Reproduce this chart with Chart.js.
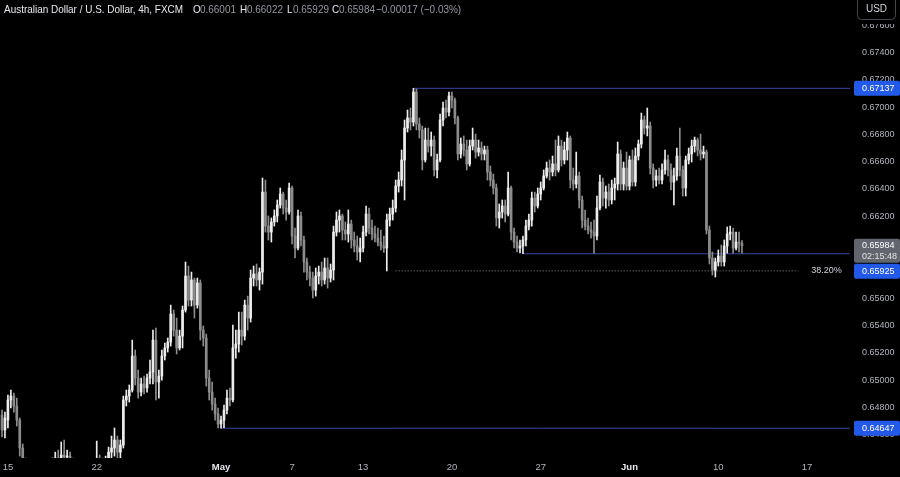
<!DOCTYPE html>
<html><head><meta charset="utf-8">
<script src="https://cdn.jsdelivr.net/npm/chart.js@4.4.1/dist/chart.umd.min.js"></script>
<style>html,body{margin:0;padding:0;background:#000;overflow:hidden}#wrap{width:900px;height:477px}</style>
</head><body><div id="wrap"><canvas id="c" width="900" height="477"></canvas></div>
<script>
// ---- data (AUD/USD 4h, FXCM) ----
const OPEN = [
0.64743,0.64634,0.64707,0.64854,0.64883,0.64810,0.64707,0.64502,0.64399,0.64326,
0.64282,0.64238,0.64267,0.64297,0.64326,0.64341,0.64355,0.64370,0.64399,0.64429,
0.64399,0.64451,0.64436,0.64443,0.64399,0.64370,0.64341,0.64311,0.64341,0.64355,
0.64341,0.64370,0.64399,0.64414,0.64385,0.64370,0.64399,0.64472,0.64502,0.64561,
0.64472,0.64524,0.64854,0.64883,0.64927,0.65176,0.65015,0.64912,0.64971,0.64942,
0.65015,0.65059,0.65293,0.64986,0.65029,0.65176,0.65235,0.65278,0.65484,0.65366,
0.65235,0.65322,0.65513,0.65762,0.65586,0.65733,0.65549,0.65711,0.65366,0.65308,
0.65015,0.64912,0.64824,0.64751,0.64678,0.64707,0.64780,0.64868,0.64854,0.65235,
0.65264,0.65366,0.65322,0.65549,0.65454,0.65747,0.65777,0.65733,0.65791,0.66377,
0.66128,0.66084,0.66158,0.66202,0.66282,0.66363,0.66260,0.66231,0.66407,0.66055,
0.65967,0.66202,0.66026,0.65865,0.65791,0.65747,0.65659,0.65762,0.65791,0.65733,
0.65821,0.65747,0.65806,0.66084,0.66172,0.66202,0.66099,0.66070,0.66143,0.66026,
0.65982,0.65938,0.65967,0.66084,0.66216,0.66114,0.66070,0.66040,0.66011,0.65982,
0.65967,0.66172,0.66216,0.66260,0.66421,0.66465,0.66612,0.66846,0.66920,0.66890,
0.67110,0.66876,0.66832,0.66612,0.66758,0.66714,0.66758,0.66539,0.66612,0.66905,
0.66993,0.66963,0.67081,0.67051,0.66920,0.66656,0.66729,0.66685,0.66583,0.66714,
0.66758,0.66670,0.66700,0.66656,0.66685,0.66524,0.66465,0.66407,0.66187,0.66231,
0.66275,0.66216,0.66407,0.66084,0.66011,0.65967,0.65982,0.66026,0.66128,0.66172,
0.66333,0.66275,0.66363,0.66407,0.66495,0.66553,0.66524,0.66583,0.66539,0.66714,
0.66612,0.66685,0.66773,0.66465,0.66436,0.66495,0.66319,0.66172,0.66128,0.66099,
0.66084,0.66055,0.66260,0.66451,0.66333,0.66377,0.66319,0.66407,0.66436,0.66656,
0.66436,0.66553,0.66421,0.66612,0.66451,0.66641,0.66729,0.66905,0.66846,0.66861,
0.66553,0.66465,0.66495,0.66465,0.66539,0.66612,0.66539,0.66451,0.66495,0.66641,
0.66539,0.66407,0.66612,0.66656,0.66714,0.66758,0.66685,0.66656,0.66670,0.66099,
0.65894,0.65806,0.65865,0.65909,0.65865,0.65982,0.66070,0.66084,0.65967,0.66011,
0.66001];
const HIGH = [
0.64780,0.64765,0.64890,0.64927,0.64905,0.64868,0.64722,0.64532,0.64429,0.64377,
0.64341,0.64304,0.64341,0.64355,0.64370,0.64392,0.64414,0.64429,0.64472,0.64487,
0.64546,0.64561,0.64487,0.64472,0.64429,0.64414,0.64399,0.64370,0.64399,0.64407,
0.64399,0.64414,0.64553,0.64451,0.64429,0.64443,0.64509,0.64590,0.64649,0.64590,
0.64561,0.64883,0.64927,0.64964,0.65293,0.65220,0.65073,0.65015,0.65029,0.65044,
0.65147,0.65366,0.65381,0.65073,0.65220,0.65271,0.65308,0.65549,0.65513,0.65454,
0.65366,0.65542,0.65865,0.65835,0.65791,0.65747,0.65747,0.65733,0.65396,0.65337,
0.65073,0.64986,0.64868,0.64795,0.64736,0.64817,0.64927,0.64942,0.65403,0.65366,
0.65498,0.65498,0.65586,0.65615,0.65806,0.65835,0.65850,0.65821,0.66480,0.66465,
0.66202,0.66187,0.66246,0.66319,0.66407,0.66377,0.66319,0.66443,0.66421,0.66114,
0.66246,0.66231,0.66055,0.65894,0.65835,0.65791,0.65821,0.65835,0.65865,0.65894,
0.65894,0.65850,0.66128,0.66231,0.66246,0.66216,0.66158,0.66246,0.66172,0.66084,
0.66055,0.66040,0.66128,0.66275,0.66260,0.66172,0.66128,0.66114,0.66099,0.66055,
0.66216,0.66260,0.66319,0.66465,0.66524,0.66685,0.66905,0.66978,0.66993,0.67137,
0.67132,0.66920,0.66861,0.66846,0.66846,0.66817,0.66788,0.66656,0.66949,0.67037,
0.67051,0.67110,0.67110,0.67066,0.66934,0.66773,0.66788,0.66758,0.66758,0.66846,
0.66802,0.66758,0.66744,0.66714,0.66714,0.66568,0.66509,0.66436,0.66290,0.66319,
0.66319,0.66524,0.66421,0.66114,0.66055,0.66026,0.66055,0.66172,0.66216,0.66377,
0.66377,0.66407,0.66451,0.66539,0.66597,0.66612,0.66641,0.66758,0.66788,0.66758,
0.66744,0.66817,0.66788,0.66553,0.66670,0.66524,0.66348,0.66246,0.66187,0.66158,
0.66172,0.66348,0.66502,0.66480,0.66421,0.66436,0.66465,0.66480,0.66744,0.66685,
0.66597,0.66670,0.66641,0.66685,0.66700,0.66758,0.66956,0.66934,0.66993,0.66890,
0.66583,0.66539,0.66553,0.66583,0.66685,0.66648,0.66583,0.66553,0.66700,0.66846,
0.66568,0.66641,0.66700,0.66758,0.66780,0.66773,0.66802,0.66714,0.66685,0.66128,
0.65938,0.65894,0.65953,0.65989,0.66026,0.66121,0.66128,0.66114,0.66084,0.66084,
0.66022];
const LOW = [
0.64583,0.64576,0.64649,0.64795,0.64765,0.64663,0.64443,0.64341,0.64282,0.64231,
0.64194,0.64179,0.64209,0.64238,0.64267,0.64282,0.64297,0.64311,0.64355,0.64370,
0.64377,0.64414,0.64385,0.64370,0.64326,0.64297,0.64267,0.64253,0.64282,0.64297,
0.64282,0.64311,0.64355,0.64341,0.64326,0.64341,0.64370,0.64414,0.64443,0.64429,
0.64399,0.64502,0.64810,0.64839,0.64912,0.64964,0.64868,0.64883,0.64898,0.64912,
0.64971,0.64971,0.64854,0.64868,0.65000,0.65147,0.65205,0.65249,0.65322,0.65191,
0.65220,0.65235,0.65498,0.65542,0.65542,0.65454,0.65527,0.65293,0.65249,0.64956,
0.64854,0.64780,0.64707,0.64649,0.64647,0.64652,0.64751,0.64810,0.64839,0.65161,
0.65205,0.65256,0.65293,0.65366,0.65425,0.65689,0.65689,0.65659,0.65703,0.66084,
0.66026,0.66011,0.66128,0.66158,0.66260,0.66216,0.66172,0.66216,0.65997,0.65894,
0.65953,0.65982,0.65791,0.65733,0.65689,0.65601,0.65615,0.65703,0.65689,0.65703,
0.65674,0.65718,0.65733,0.66055,0.66084,0.66026,0.66026,0.66011,0.65967,0.65938,
0.65879,0.65865,0.65938,0.66055,0.66070,0.66026,0.66011,0.65982,0.65953,0.65935,
0.65799,0.66128,0.66172,0.66231,0.66377,0.66421,0.66319,0.66817,0.66832,0.66861,
0.66832,0.66773,0.66539,0.66597,0.66670,0.66641,0.66495,0.66480,0.66597,0.66861,
0.66920,0.66934,0.66993,0.66876,0.66612,0.66626,0.66641,0.66539,0.66568,0.66685,
0.66626,0.66641,0.66612,0.66612,0.66465,0.66421,0.66363,0.66128,0.66114,0.66187,
0.66158,0.66202,0.66026,0.65967,0.65938,0.65931,0.65925,0.65982,0.66099,0.66128,
0.66231,0.66260,0.66319,0.66392,0.66480,0.66465,0.66495,0.66495,0.66524,0.66568,
0.66583,0.66612,0.66407,0.66392,0.66407,0.66260,0.66114,0.66099,0.66070,0.66040,
0.65927,0.66026,0.66246,0.66275,0.66260,0.66275,0.66290,0.66319,0.66392,0.66392,
0.66392,0.66392,0.66392,0.66421,0.66421,0.66612,0.66700,0.66802,0.66788,0.66509,
0.66407,0.66421,0.66436,0.66436,0.66509,0.66495,0.66392,0.66282,0.66465,0.66495,
0.66348,0.66348,0.66583,0.66597,0.66670,0.66641,0.66612,0.66626,0.66070,0.65850,
0.65769,0.65755,0.65835,0.65835,0.65835,0.65930,0.66026,0.65930,0.65953,0.65938,
0.65929];
const CLOSE = [
0.64634,0.64722,0.64854,0.64883,0.64810,0.64707,0.64502,0.64399,0.64326,0.64282,
0.64238,0.64267,0.64297,0.64326,0.64341,0.64355,0.64370,0.64399,0.64429,0.64399,
0.64451,0.64436,0.64443,0.64399,0.64370,0.64341,0.64311,0.64341,0.64355,0.64341,
0.64370,0.64399,0.64414,0.64385,0.64370,0.64399,0.64472,0.64502,0.64561,0.64472,
0.64524,0.64854,0.64883,0.64927,0.65176,0.65015,0.64912,0.64971,0.64942,0.65015,
0.65059,0.65293,0.64986,0.65029,0.65176,0.65235,0.65278,0.65484,0.65366,0.65235,
0.65322,0.65513,0.65762,0.65586,0.65733,0.65549,0.65711,0.65366,0.65308,0.65015,
0.64912,0.64824,0.64751,0.64678,0.64707,0.64780,0.64868,0.64854,0.65235,0.65264,
0.65366,0.65322,0.65549,0.65454,0.65747,0.65777,0.65733,0.65791,0.66377,0.66128,
0.66084,0.66158,0.66202,0.66282,0.66363,0.66260,0.66231,0.66407,0.66055,0.65967,
0.66202,0.66026,0.65865,0.65791,0.65747,0.65659,0.65762,0.65791,0.65733,0.65821,
0.65747,0.65806,0.66084,0.66172,0.66202,0.66099,0.66070,0.66143,0.66026,0.65982,
0.65938,0.65967,0.66084,0.66216,0.66114,0.66070,0.66040,0.66011,0.65982,0.65967,
0.66172,0.66216,0.66260,0.66421,0.66465,0.66612,0.66846,0.66920,0.66890,0.67110,
0.66876,0.66832,0.66612,0.66758,0.66714,0.66758,0.66539,0.66612,0.66905,0.66993,
0.66963,0.67081,0.67051,0.66920,0.66656,0.66729,0.66685,0.66583,0.66714,0.66758,
0.66670,0.66700,0.66656,0.66685,0.66524,0.66465,0.66407,0.66187,0.66231,0.66275,
0.66216,0.66407,0.66084,0.66011,0.65967,0.65982,0.66026,0.66128,0.66172,0.66333,
0.66275,0.66363,0.66407,0.66495,0.66553,0.66524,0.66583,0.66539,0.66714,0.66612,
0.66685,0.66773,0.66465,0.66436,0.66495,0.66319,0.66172,0.66128,0.66099,0.66084,
0.66055,0.66260,0.66451,0.66333,0.66377,0.66319,0.66407,0.66436,0.66656,0.66436,
0.66553,0.66421,0.66612,0.66451,0.66641,0.66729,0.66905,0.66846,0.66861,0.66553,
0.66465,0.66495,0.66465,0.66539,0.66612,0.66539,0.66451,0.66495,0.66641,0.66539,
0.66407,0.66612,0.66656,0.66714,0.66758,0.66685,0.66656,0.66670,0.66099,0.65894,
0.65806,0.65865,0.65909,0.65865,0.65982,0.66070,0.66084,0.65967,0.66011,0.66001,
0.65984];

// x-axis: bar index of each date label
const DATE_TICK_BARS   = [2, 32, 74, 98, 122, 152, 182, 212, 242, 272];
const DATE_TICK_LABELS = ['15', '22', 'May', '7', '13', '20', '27', 'Jun', '10', '17'];
const MONTH_LABELS = ['May', 'Jun'];
// y-axis ticks
const PRICE_TICKS = [0.676, 0.674, 0.672, 0.670, 0.668, 0.666, 0.664, 0.662, 0.660, 0.658, 0.656, 0.654, 0.652, 0.650, 0.648, 0.646];

// drawn levels
const RESISTANCE = 0.67137, RESISTANCE_FROM = 139;
const SUPPORT_1 = 0.65925, SUPPORT_1_FROM = 176;
const SUPPORT_2 = 0.64647, SUPPORT_2_FROM = 74;
const FIB_LEVEL = 0.65800, FIB_FROM = 133, FIB_TO = 269, FIB_LABEL = '38.20%';

const TITLE = 'Australian Dollar / U.S. Dollar, 4h, FXCM';
const COUNTDOWN = '02:15:48';
const CURRENCY = 'USD';

// ---- view settings ----
const Y_MIN = 0.64429, Y_MAX = 0.67784;
const X_MIN = -0.676, X_MAX = 286.49;
const UP = '#ececec', DOWN = '#8c8c8c', LINE_BLUE = '#3a45a6', LABEL_BLUE = '#2359e8';
const FONT = '"Liberation Sans", Arial, sans-serif';

const N = CLOSE.length;
const idx = Array.from({length: N}, (_, i) => i);
const isUp = i => CLOSE[i] >= OPEN[i];
const candleColor = ctx => isUp(ctx.dataIndex) ? UP : DOWN;
const wickData = idx.map(i => ({x: i, y: [LOW[i], HIGH[i]]}));
const bodyData = idx.map(i => ({x: i, y: [OPEN[i], CLOSE[i]]}));
const levelLine = (v, from, to) => [{x: from, y: v}, {x: to, y: v}];

const bgPlugin = {
  id: 'bg',
  beforeDraw(chart) {
    const c = chart.ctx; c.save(); c.fillStyle = '#000'; c.fillRect(0, 0, chart.width, chart.height); c.restore();
  }
};

function box(ctx, x, y, w, h, r, fill, stroke) {
  ctx.beginPath();
  ctx.moveTo(x + r, y); ctx.lineTo(x + w - r, y); ctx.quadraticCurveTo(x + w, y, x + w, y + r);
  ctx.lineTo(x + w, y + h - r); ctx.quadraticCurveTo(x + w, y + h, x + w - r, y + h);
  ctx.lineTo(x + r, y + h); ctx.quadraticCurveTo(x, y + h, x, y + h - r);
  ctx.lineTo(x, y + r); ctx.quadraticCurveTo(x, y, x + r, y); ctx.closePath();
  if (fill) { ctx.fillStyle = fill; ctx.fill(); }
  if (stroke) { ctx.strokeStyle = stroke; ctx.lineWidth = 1; ctx.stroke(); }
}

const overlay = {
  id: 'overlay',
  afterDraw(chart) {
    const ctx = chart.ctx, ys = chart.scales.y, xs = chart.scales.x;
    ctx.save();
    ctx.textBaseline = 'middle'; ctx.textAlign = 'left';

    // fib label
    ctx.font = '9px ' + FONT; ctx.fillStyle = '#d1d4dc';
    ctx.fillText(FIB_LABEL, xs.getPixelForValue(FIB_TO) + 13, ys.getPixelForValue(FIB_LEVEL));

    // header
    ctx.font = '11px ' + FONT;
    const sx = 179 / ctx.measureText(TITLE).width;
    const drawT = (t, x, col) => { ctx.save(); ctx.translate(x, 9.5); ctx.scale(sx, 1); ctx.fillStyle = col; ctx.fillText(t, 0, 0); ctx.restore(); };
    const last = N - 1;
    const chg = CLOSE[last] - CLOSE[last - 1];
    const pct = chg / CLOSE[last - 1] * 100;
    const fmt = v => (v < 0 ? '\u2212' : '+') + Math.abs(v).toFixed(5);
    drawT(TITLE, 4, '#e6e8ee');
    const VAL = '#9598a1', LET = '#e6e8ee';
    drawT('O', 193, LET); drawT(OPEN[last].toFixed(5), 200, VAL);
    drawT('H', 240, LET); drawT(HIGH[last].toFixed(5), 247, VAL);
    drawT('L', 287, LET); drawT(LOW[last].toFixed(5), 293, VAL);
    drawT('C', 332, LET); drawT(CLOSE[last].toFixed(5), 339, VAL);
    drawT(fmt(chg) + ' (' + (pct < 0 ? '\u2212' : '+') + Math.abs(pct).toFixed(2) + '%)', 376, VAL);

    // currency box (covers the top tick partly)
    ctx.fillStyle = '#000'; ctx.fillRect(851, 0, 49, 24);
    box(ctx, 857.5, -4.5, 38, 24, 4, '#000', '#43464f');
    ctx.font = '10px ' + FONT; ctx.fillStyle = '#d1d4dc'; ctx.textAlign = 'center';
    ctx.fillText(CURRENCY, 876.5, 9);
    ctx.textAlign = 'left';

    // price labels
    const lx = 854, lw = 46;
    const priceLabel = (v, top, h, bg) => {
      box(ctx, lx, top, lw, h, 2, bg);
      ctx.font = '9px ' + FONT; ctx.fillStyle = '#ffffff';
      ctx.fillText(v.toFixed(5), 862, top + h / 2 + 0.5);
    };
    const yRes = ys.getPixelForValue(RESISTANCE);
    priceLabel(RESISTANCE, yRes - 7.5, 15, LABEL_BLUE);
    const yS2 = ys.getPixelForValue(SUPPORT_2);
    priceLabel(SUPPORT_2, yS2 - 7.5, 15, LABEL_BLUE);
    const yC = ys.getPixelForValue(CLOSE[last]);
    const gTop = yC - 7;
    box(ctx, lx, gTop, lw, 24, 2, '#62656e');
    ctx.font = '9px ' + FONT; ctx.fillStyle = '#ffffff';
    ctx.fillText(CLOSE[last].toFixed(5), 862, gTop + 6.5);
    ctx.fillStyle = '#e3e3e3';
    ctx.fillText(COUNTDOWN, 862, gTop + 17.5);
    const yS1 = ys.getPixelForValue(SUPPORT_1);
    const s1Top = Math.max(yS1 - 7.5, gTop + 24 + 1);
    priceLabel(SUPPORT_1, s1Top, 15, LABEL_BLUE);
    ctx.restore();
  }
};

const noPad = s => { s.paddingTop = 0; s.paddingBottom = 0; s.paddingLeft = 0; s.paddingRight = 0; };

new Chart(document.getElementById('c'), {
  type: 'bar',
  data: {
    datasets: [
      { type: 'line', data: levelLine(RESISTANCE, RESISTANCE_FROM, X_MAX + 5), borderColor: LINE_BLUE, borderWidth: 1, pointRadius: 0, order: 5 },
      { type: 'line', data: levelLine(SUPPORT_1, SUPPORT_1_FROM, X_MAX + 5), borderColor: LINE_BLUE, borderWidth: 1, pointRadius: 0, order: 5 },
      { type: 'line', data: levelLine(SUPPORT_2, SUPPORT_2_FROM, X_MAX + 5), borderColor: LINE_BLUE, borderWidth: 1, pointRadius: 0, order: 5 },
      { type: 'line', data: levelLine(FIB_LEVEL, FIB_FROM, FIB_TO), borderColor: '#8a8a8a', borderWidth: 1, borderDash: [1, 2], pointRadius: 0, order: 5 },
      { label: 'wick', data: wickData, backgroundColor: candleColor, borderWidth: 0, barThickness: 1, maxBarThickness: 1, grouped: false, order: 2 },
      { label: 'body', data: bodyData, backgroundColor: candleColor, borderWidth: 0, barThickness: 2, maxBarThickness: 2, grouped: false, minBarLength: 1, order: 1 }
    ]
  },
  options: {
    responsive: false, animation: false, devicePixelRatio: 1,
    layout: { padding: 0, autoPadding: false },
    plugins: { legend: { display: false }, tooltip: { enabled: false }, title: { display: false } },
    scales: {
      x: {
        type: 'linear', min: X_MIN, max: X_MAX, offset: false,
        grid: { display: false, drawTicks: false }, border: { display: false },
        afterBuildTicks: s => { s.ticks = DATE_TICK_BARS.map(v => ({ value: v })); },
        afterFit: s => { s.height = 19; noPad(s); },
        ticks: {
          autoSkip: false, maxRotation: 0, minRotation: 0, padding: 4,
          color: c => MONTH_LABELS.includes(DATE_TICK_LABELS[c.index]) ? '#e6e8ee' : '#b2b5be',
          font: c => ({ family: FONT, size: 9.5, weight: MONTH_LABELS.includes(DATE_TICK_LABELS[c.index]) ? 'bold' : 'normal' }),
          callback: (v, i) => DATE_TICK_LABELS[i]
        }
      },
      y: {
        type: 'linear', position: 'right', min: Y_MIN, max: Y_MAX, beginAtZero: false,
        grid: { display: false, drawTicks: false }, border: { display: false },
        afterBuildTicks: s => { s.ticks = PRICE_TICKS.map(v => ({ value: v })); },
        afterFit: s => { s.width = 50; noPad(s); },
        ticks: { autoSkip: false, padding: 12, color: '#b2b5be', font: { family: FONT, size: 9 }, callback: v => Number(v).toFixed(5) }
      }
    }
  },
  plugins: [bgPlugin, overlay]
});
</script>
</body></html>
